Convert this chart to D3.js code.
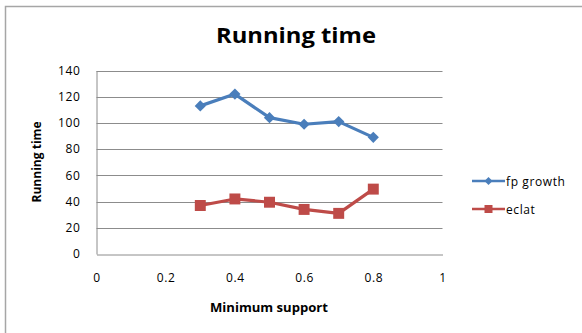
<!DOCTYPE html>
<html>
<head>
<meta charset="utf-8">
<script src="https://cdn.jsdelivr.net/npm/d3@7"></script>
<style>
  html, body { margin: 0; padding: 0; background: #fff; }
  svg { display: block; }
  text { font-family: "Open Sans", Lato, "Liberation Sans", sans-serif; fill: #000; }
</style>
</head>
<body>
<svg id="chart" width="582" height="333"></svg>
<script>
// Minimum support thresholds (x) and running times per algorithm
const supports = [0.3, 0.4, 0.5, 0.6, 0.7, 0.8];
const fpGrowth = [113, 122, 104, 99, 101, 89];
const eclat = [37, 42, 39.5, 34, 31, 49.5];
const xTicks = [0, 0.2, 0.4, 0.6, 0.8, 1];
const yTicks = [0, 20, 40, 60, 80, 100, 120, 140];
const seriesNames = ["fp growth", "eclat"];
const seriesColors = ["#4a7ebb", "#be4b48"];

const svg = d3.select("#chart");

// outer chart frame (left and top edges visible)
svg.append("path")
  .attr("d", "M5.5,333 V6.5 H582")
  .attr("fill", "none")
  .attr("stroke", "#a6a6a6")
  .attr("stroke-width", 1.5);

const plot = { left: 96.5, right: 442.5, top: 70.5, bottom: 254 };

const x = d3.scaleLinear().domain([0, 1]).range([plot.left, plot.right]);
const y = d3.scaleLinear().domain([0, 140]).range([plot.bottom, plot.top]);

// horizontal gridlines
svg.append("g")
  .selectAll("line")
  .data(yTicks.filter(d => d > 0))
  .join("line")
  .attr("x1", plot.left)
  .attr("x2", plot.right)
  .attr("y1", d => Math.round(y(d)) + 0.5)
  .attr("y2", d => Math.round(y(d)) + 0.5)
  .attr("stroke", "#8c8c8c")
  .attr("stroke-width", 1);

// y axis
const yAxis = d3.axisLeft(y).tickValues(yTicks).tickSize(0).tickPadding(16);
const gy = svg.append("g")
  .attr("transform", `translate(${plot.left},0)`)
  .call(yAxis);
gy.select(".domain").attr("stroke", "#8c8c8c");
gy.selectAll("text").attr("font-size", 12).attr("letter-spacing", 0.6).attr("fill", "#000");

// x axis
const xAxis = d3.axisBottom(x).tickValues(xTicks).tickSize(0).tickPadding(19)
  .tickFormat(d => String(d));
const gx = svg.append("g")
  .attr("transform", `translate(0,${Math.round(plot.bottom) + 0.5})`)
  .call(xAxis);
gx.select(".domain").attr("stroke", "#8c8c8c");
gx.selectAll("text").attr("font-size", 12).attr("letter-spacing", 0.6).attr("fill", "#000");

// title and axis titles
svg.append("text")
  .attr("x", 296).attr("y", 43)
  .attr("text-anchor", "middle")
  .attr("font-size", 21)
  .attr("font-weight", "bold")
  .attr("textLength", 160)
  .attr("lengthAdjust", "spacingAndGlyphs")
  .text("Running time");

svg.append("text")
  .attr("x", 269).attr("y", 312)
  .attr("text-anchor", "middle")
  .attr("font-size", 11.5)
  .attr("font-weight", "bold")
  .attr("textLength", 118)
  .attr("lengthAdjust", "spacingAndGlyphs")
  .text("Minimum support");

svg.append("text")
  .attr("transform", "translate(41,162) rotate(-90)")
  .attr("text-anchor", "middle")
  .attr("font-size", 11.5)
  .attr("font-weight", "bold")
  .attr("textLength", 81)
  .attr("lengthAdjust", "spacingAndGlyphs")
  .text("Running time");

// series
const series = [fpGrowth, eclat];
const line = d3.line()
  .x((d, i) => x(supports[i]))
  .y(d => y(d));

const diamond = d3.symbol().type(d3.symbolDiamond2).size(80);
const square = d3.symbol().type(d3.symbolSquare).size(120);
const markers = [diamond, square];

series.forEach((vals, s) => {
  svg.append("path")
    .datum(vals)
    .attr("d", line)
    .attr("fill", "none")
    .attr("stroke", seriesColors[s])
    .attr("stroke-width", 3.2)
    .attr("stroke-linejoin", "round");
  svg.append("g")
    .selectAll("path")
    .data(vals)
    .join("path")
    .attr("transform", (d, i) => `translate(${x(supports[i])},${y(d)})`)
    .attr("d", markers[s])
    .attr("fill", seriesColors[s]);
});

// legend
const legend = svg.append("g");
seriesNames.forEach((name, s) => {
  const ly = 181 + s * 28;
  legend.append("line")
    .attr("x1", 472).attr("x2", 505)
    .attr("y1", ly).attr("y2", ly)
    .attr("stroke", seriesColors[s])
    .attr("stroke-width", 2.5);
  legend.append("path")
    .attr("transform", `translate(488.5,${ly})`)
    .attr("d", s === 0 ? d3.symbol().type(d3.symbolDiamond2).size(40)()
                       : d3.symbol().type(d3.symbolSquare).size(64)())
    .attr("fill", seriesColors[s]);
  legend.append("text")
    .attr("x", 506).attr("y", ly + 4.5)
    .attr("font-size", 12)
    .attr("letter-spacing", 0.6)
    .text(name);
});
</script>
</body>
</html>
